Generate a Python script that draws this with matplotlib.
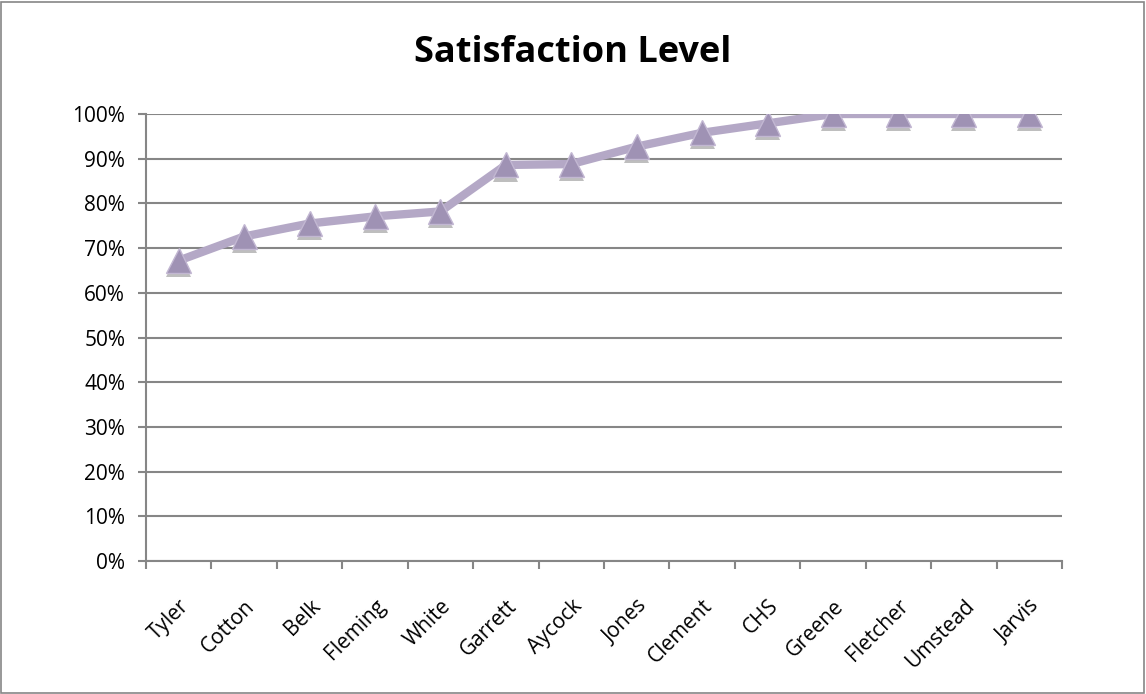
import numpy as np
import matplotlib
matplotlib.use('Agg')
import matplotlib.pyplot as plt
import matplotlib.patheffects as pe
from matplotlib.patches import Rectangle
from matplotlib.ticker import FixedLocator, PercentFormatter

schools = ['Tyler', 'Cotton', 'Belk', 'Fleming', 'White', 'Garrett', 'Aycock',
           'Jones', 'Clement', 'CHS', 'Greene', 'Fletcher', 'Umstead', 'Jarvis']
satisfaction = [67.2, 72.6, 75.5, 77.1, 78.2, 88.6, 88.8,
                92.7, 95.8, 97.9, 100, 100, 100, 100]
y_ticks = [0, 10, 20, 30, 40, 50, 60, 70, 80, 90, 100]

plt.rcParams['font.family'] = ['Open Sans', 'DejaVu Sans']

fig = plt.figure(figsize=(11.46, 6.94), dpi=100)
ax = fig.add_axes([146/1146, 1-561/694, (1062-146)/1146, (561-114)/694])

x = np.arange(len(schools))
ax.plot(x, satisfaction, color='#b4a8c6', linewidth=6, solid_capstyle='butt', zorder=3)
ax.plot(x, satisfaction, linestyle='none', marker='^', markersize=18,
        markerfacecolor='#9f92b4', markeredgecolor='#c2b7d2', markeredgewidth=1,
        zorder=4,
        path_effects=[pe.SimplePatchShadow(offset=(0, -3), shadow_rgbFace='#6f6f6f', alpha=0.45),
                      pe.Normal()])

ax.set_xlim(-0.5, len(schools)-0.5)
ax.set_ylim(0, 100)
ax.set_yticks(y_ticks)
ax.yaxis.set_major_formatter(PercentFormatter(decimals=0))
ax.grid(axis='y', color='#868686', linewidth=1.5)
ax.set_axisbelow(True)

ax.set_xticks(x)
ax.set_xticklabels(schools, rotation=45, ha='right', va='top', rotation_mode='anchor')
ax.xaxis.set_minor_locator(FixedLocator(np.arange(-0.5, len(schools), 1)))
ax.tick_params(axis='x', which='major', length=0, pad=25, labelsize=15)
ax.tick_params(axis='x', which='minor', length=6, color='#868686', width=1.5)
ax.tick_params(axis='y', length=6, color='#868686', width=1.5, labelsize=15, pad=9)

for s in ['top', 'right']:
    ax.spines[s].set_visible(False)
for s in ['left', 'bottom']:
    ax.spines[s].set_color('#868686')
    ax.spines[s].set_linewidth(1.5)

fig.text(0.5, 1-53/694, 'Satisfaction Level', ha='center', va='center',
         fontsize=26, fontweight='bold')

fig.patches.append(Rectangle((1/1146, 1/694), 1-3/1146, 1-3/694, transform=fig.transFigure,
                             fill=False, edgecolor='#868686', linewidth=1.2))

fig.savefig('out.png', dpi=100)
